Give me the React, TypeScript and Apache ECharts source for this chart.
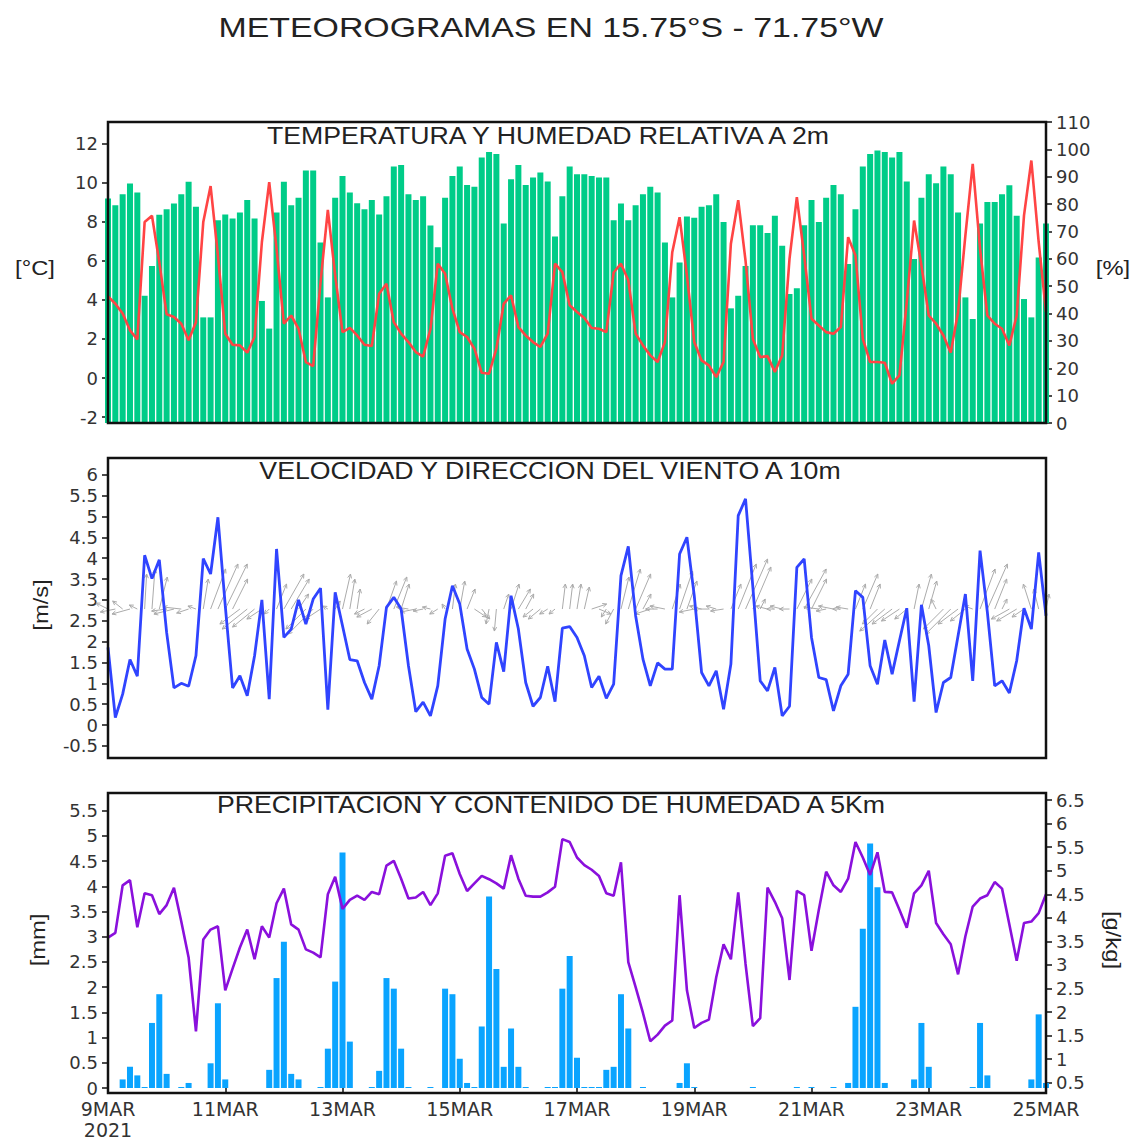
import React, { useEffect, useRef } from 'react';
import * as echarts from 'echarts';

// ---------- DATA (3-hourly from 9MAR2021 00Z, index i -> hour 3*i) ----------
const STEP_H = 3;
const DAY_LABELS = ['9MAR', '11MAR', '13MAR', '15MAR', '17MAR', '19MAR', '21MAR', '23MAR', '25MAR'];
const YEAR_LABEL = '2021';

const TEMP_TICKS = [-2, 0, 2, 4, 6, 8, 10, 12];
const RH_TICKS = [0, 10, 20, 30, 40, 50, 60, 70, 80, 90, 100, 110];
const WIND_TICKS = [-0.5, 0, 0.5, 1, 1.5, 2, 2.5, 3, 3.5, 4, 4.5, 5, 5.5, 6];
const PRECIP_TICKS = [0, 0.5, 1, 1.5, 2, 2.5, 3, 3.5, 4, 4.5, 5, 5.5];
const Q_TICKS = [0.5, 1, 1.5, 2, 2.5, 3, 3.5, 4, 4.5, 5, 5.5, 6, 6.5];

const RH = [
  82, 79.6, 83.6, 87.5, 84.2, 46.5, 57.4, 76.1, 78.1, 80.2,
  83.6, 88.2, 79.0, 38.6, 38.6, 74.1, 76.2, 74.7, 76.9, 81.5,
  74.7, 44.6, 34.5, 76.9, 88.2, 79.6, 82.3, 92.3, 92.3, 66.0,
  45.9, 82.3, 90.3, 84.2, 80.3, 78.1, 81.5, 76.2, 82.9, 93.7,
  94.3, 83.6, 81.5, 82.9, 72.2, 64.2, 82.3, 90.3, 93.7, 87.0,
  86.3, 97.0, 99.0, 98.3, 72.9, 89.1, 94.3, 87.0, 89.7, 91.5,
  88.3, 68.2, 82.9, 93.7, 90.9, 90.9, 90.3, 89.7, 89.7, 74.1,
  80.2, 74.1, 79.6, 83.6, 86.3, 84.2, 66.0, 45.9, 58.7, 75.5,
  75.0, 79.0, 79.6, 83.6, 73.5, 41.9, 46.5, 57.4, 72.3, 72.3,
  69.4, 75.7, 64.8, 47.1, 49.2, 72.3, 81.5, 73.5, 82.3, 87.0,
  83.6, 58.1, 78.1, 93.7, 98.3, 99.6, 99.0, 97.0, 99.0, 88.3,
  59.9, 82.3, 90.9, 87.6, 93.7, 90.9, 76.9, 45.9, 38.0, 72.9,
  80.8, 80.8, 83.6, 86.9, 75.7, 45.3, 38.6, 60.5, 72.9,
];

const TEMP = [
  4.18, 3.8, 3.3, 2.44, 1.98, 7.98, 8.3, 5.93, 3.26, 3.12,
  2.78, 1.93, 2.86, 7.98, 9.82, 6.27, 2.27, 1.7, 1.67, 1.3,
  2.1, 6.96, 10.02, 6.61, 2.78, 3.2, 2.52, 0.82, 0.61, 4.9,
  8.6, 5.25, 2.35, 2.57, 2.18, 1.7, 1.64, 4.31, 4.82, 2.86,
  2.27, 1.84, 1.33, 1.1, 2.5, 5.85, 5.34, 3.55, 2.35, 2.1,
  1.5, 0.27, 0.22, 1.5, 3.8, 4.23, 2.61, 2.18, 1.84, 1.59,
  2.27, 5.85, 5.42, 3.72, 3.38, 3.07, 2.56, 2.52, 2.35, 5.4,
  5.85, 5.0, 2.27, 1.67, 1.16, 0.82, 1.84, 6.44, 8.23, 5.25,
  1.84, 0.9, 0.65, 0.05, 0.82, 6.87, 9.1, 6.0, 2.0, 1.07,
  1.12, 0.31, 1.16, 6.1, 9.26, 6.27, 3.03, 2.69, 2.35, 2.27,
  2.61, 7.21, 6.27, 2.01, 0.82, 0.82, 0.78, -0.29, 0.14, 3.89,
  8.06, 5.76, 3.2, 2.78, 2.18, 1.3, 3.38, 7.3, 10.96, 6.61,
  3.2, 2.78, 2.52, 1.67, 3.2, 8.32, 11.13, 6.96, 3.38,
];

const WIND_SPEED = [
  1.86, 0.18, 0.74, 1.57, 1.17, 4.07, 3.51, 3.96, 2.22, 0.89,
  1.0, 0.93, 1.66, 3.99, 3.62, 4.98, 2.86, 0.89, 1.18, 0.7,
  1.66, 3.0, 0.62, 4.22, 2.1, 2.3, 3.0, 2.42, 3.02, 3.28,
  0.37, 3.18, 2.38, 1.57, 1.54, 1.02, 0.62, 1.42, 2.82, 3.06,
  2.78, 1.42, 0.32, 0.55, 0.22, 0.94, 2.54, 3.34, 2.9, 1.82,
  1.34, 0.66, 0.5, 1.98, 1.28, 3.1, 2.3, 1.02, 0.45, 0.66,
  1.41, 0.56, 2.32, 2.36, 2.1, 1.66, 0.9, 1.17, 0.64, 0.98,
  3.58, 4.28, 2.62, 1.58, 0.94, 1.49, 1.34, 1.34, 4.1, 4.5,
  3.1, 1.26, 0.94, 1.3, 0.38, 1.46, 5.02, 5.42, 3.3, 1.06,
  0.82, 1.38, 0.22, 0.45, 3.78, 3.98, 2.1, 1.14, 1.09, 0.34,
  0.94, 1.22, 3.22, 3.06, 1.42, 0.98, 2.04, 1.22, 2.02, 2.8,
  0.56, 2.88, 1.9, 0.3, 1.02, 1.14, 2.14, 3.14, 1.06, 4.18,
  2.7, 0.94, 1.06, 0.77, 1.54, 2.8, 2.3, 4.14, 2.62,
];

// wind direction arrows as (u, v) components, m/s
const WIND_U = [
  -1.2, -1.5, -1.0, -1.8, -0.8, 0.2, 0.3, 0.8, -1.5, -2.0,
  -1.8, -1.2, -0.8, 0.5, 1.5, 2.0, 2.2, 1.5, -2.0, -2.5,
  -2.2, -1.5, -0.5, 1.0, 2.0, 1.8, 1.0, -2.0, -2.5, -1.5,
  -0.5, 0.5, 0.8, 0.5, 0.3, -1.0, -1.5, -1.2, 1.0, 1.3,
  0.8, -1.2, -1.5, -1.0, -0.8, -0.8, -0.3, 0.3, 0.5, 0.8,
  1.2, 0.8, -0.3, -0.2, 0.5, 0.8, 1.2, 0.8, -1.0, -1.2,
  -0.8, -0.6, 0.3, 0.3, 0.4, 0.5, 1.5, 1.2, -0.5, -0.8,
  0.8, 1.2, 1.5, 0.8, -1.5, -1.2, -1.5, 0.8, 1.3, 1.0,
  -1.5, -1.2, -1.5, -1.0, -1.3, 1.0, 1.8, 2.2, 1.8, 0.5,
  -1.2, -0.8, -1.2, -1.0, 1.5, 2.2, 1.5, -1.5, -1.0, -1.5,
  -0.8, -1.2, 1.0, 1.5, 1.0, -1.5, -2.5, -2.0, -1.8, -1.2,
  0.5, 1.0, 0.8, -0.5, -2.0, -2.5, -2.0, -1.5, -0.8, 1.5,
  2.0, 1.2, 0.5, -1.8, -2.0, -1.2, -0.8, -0.5, 0.3,
];
const WIND_V = [
  0.6, -0.3, 0.8, -0.5, 0.4, 3.5, 4.0, 3.2, -0.2, -0.5,
  0.2, -0.4, 0.3, 3.0, 4.0, 4.5, 4.5, 3.0, -1.5, -2.0,
  -1.8, -1.0, -0.5, 2.5, 3.5, 3.0, 1.5, -2.0, -2.5, -1.0,
  0.3, 0.8, 3.5, 3.0, 2.0, -0.5, -0.8, -1.5, 2.8, 3.2,
  2.5, 0.2, -0.3, -0.2, 0.2, -0.5, 0.5, 2.5, 2.8, 2.0,
  -0.8, -1.0, -1.5, -2.2, 1.5, 2.5, 2.0, 1.5, -0.8, -1.0,
  -0.5, -0.5, 2.5, 2.5, 2.5, 2.2, 0.5, -0.5, -0.8, -1.5,
  3.2, 4.0, 3.5, 1.5, -0.5, 0.0, 0.3, 2.5, 3.8, 2.8,
  -0.3, 0.3, 0.0, 0.3, -0.2, 2.5, 4.5, 5.0, 4.2, 1.0,
  0.3, 0.0, 0.3, 0.0, 3.0, 4.0, 3.0, 0.2, -0.2, 0.3,
  0.0, 0.2, 2.5, 3.5, 2.5, -1.5, -2.2, -1.5, -1.2, -1.0,
  2.5, 3.5, 2.8, 1.0, -2.0, -2.5, -1.5, -1.2, 0.3, 4.0,
  4.5, 3.0, 1.0, -1.0, -1.2, -0.8, 2.5, 2.0, 1.5,
];

const PRECIP = [
  0, 0, 0.17, 0.42, 0.25, 0.02, 1.29, 1.86, 0.28, 0,
  0.02, 0.1, 0, 0, 0.49, 1.68, 0.17, 0, 0, 0,
  0, 0, 0.36, 2.18, 2.9, 0.28, 0.17, 0, 0, 0.02,
  0.78, 2.11, 4.67, 0.92, 0, 0, 0.02, 0.34, 2.18, 1.97,
  0.78, 0.02, 0, 0, 0.02, 0, 1.97, 1.86, 0.58, 0.1,
  0.02, 1.22, 3.8, 2.36, 0.42, 1.18, 0.42, 0.02, 0, 0,
  0.02, 0.02, 1.97, 2.62, 0.6, 0.02, 0.02, 0.02, 0.36, 0.42,
  1.86, 1.18, 0, 0.02, 0, 0, 0, 0, 0.1, 0.49,
  0.02, 0, 0, 0, 0, 0, 0, 0, 0.02, 0,
  0, 0, 0, 0, 0.02, 0, 0.02, 0, 0, 0.02,
  0, 0.1, 1.61, 3.16, 4.85, 3.98, 0.1, 0, 0, 0,
  0.17, 1.29, 0.42, 0, 0, 0, 0, 0, 0.02, 1.29,
  0.25, 0, 0, 0, 0, 0, 0.17, 1.46, 0.1,
];

const Q5KM = [
  3.58, 3.68, 4.69, 4.8, 3.8, 4.52, 4.48, 4.08, 4.27, 4.64,
  3.92, 3.16, 1.59, 3.54, 3.75, 3.82, 2.46, 2.92, 3.37, 3.75,
  3.12, 3.82, 3.58, 4.31, 4.62, 3.86, 3.75, 3.33, 3.26, 3.16,
  4.5, 4.87, 4.19, 4.38, 4.47, 4.38, 4.55, 4.5, 5.11, 5.21,
  4.83, 4.41, 4.43, 4.55, 4.27, 4.52, 5.32, 5.37, 4.93, 4.57,
  4.73, 4.89, 4.82, 4.73, 4.62, 5.33, 4.83, 4.47, 4.45, 4.45,
  4.54, 4.66, 5.67, 5.61, 5.28, 5.12, 5.02, 4.89, 4.52, 4.47,
  5.18, 3.06, 2.53, 1.98, 1.38, 1.52, 1.71, 1.82, 4.48, 2.46,
  1.66, 1.77, 1.84, 2.74, 3.44, 3.12, 4.54, 3.02, 1.7, 1.87,
  4.64, 4.34, 3.99, 2.68, 4.57, 4.48, 3.3, 4.17, 4.98, 4.69,
  4.55, 4.83, 5.61, 5.28, 4.91, 5.39, 4.55, 4.54, 4.17, 3.79,
  4.52, 4.69, 5.0, 3.89, 3.65, 3.44, 2.8, 3.61, 4.24, 4.41,
  4.48, 4.76, 4.62, 3.86, 3.09, 3.89, 3.92, 4.1, 4.5,
];

// ---------- STYLE / LAYOUT ----------
const W = 1137;
const H = 1140;
const PL = 108;
const PW = 938;
const GRIDS = [
  { top: 122, height: 301 },
  { top: 458, height: 300 },
  { top: 793, height: 300 },
];
const TICK_FONT = 'DejaVu Sans';
const TITLE_FONT = 'Liberation Sans';
const TXT = '#333';
const ARROW_BASE = 2.78;
const ARROW_SCALE = 10; // px per m/s

const fmt = (v: number) => String(Math.round(v * 100) / 100);

function buildOption() {
  const T_MAX = (TEMP.length - 1) * STEP_H;
  const pair = (arr: number[]) => arr.map((v, i) => [i * STEP_H, v]);

  const xAxes = GRIDS.map((_, g) => ({
    type: 'value',
    gridIndex: g,
    min: 0,
    max: T_MAX,
    interval: 48,
    axisLine: { show: false },
    splitLine: { show: false },
    axisTick: { show: g === 2, length: 6, lineStyle: { color: '#111', width: 1.5 } },
    axisLabel: {
      show: g === 2,
      margin: 10,
      color: TXT,
      fontFamily: TICK_FONT,
      fontSize: 19,
      lineHeight: 21,
      formatter: (v: number) => {
        const k = Math.round(v / 48);
        return k === 0 ? DAY_LABELS[k] + '\n' + YEAR_LABEL : DAY_LABELS[k];
      },
    },
  }));

  const yAx = (g: number, pos: string, min: number, max: number, ticks: number[]) => ({
    type: 'value',
    gridIndex: g,
    position: pos,
    min,
    max,
    axisLine: { show: false },
    splitLine: { show: false },
    axisTick: { show: true, customValues: ticks, length: 6, lineStyle: { color: '#111', width: 1.5 } },
    axisLabel: {
      customValues: ticks,
      margin: 10,
      color: TXT,
      fontFamily: TICK_FONT,
      fontSize: 18,
      formatter: (v: number) => fmt(v),
    },
  });

  const yAxes = [
    yAx(0, 'left', -2.3, 13.1, TEMP_TICKS),
    yAx(0, 'right', 0, 110, RH_TICKS),
    yAx(1, 'left', -0.79, 6.4, WIND_TICKS),
    yAx(2, 'left', 0, 5.85, PRECIP_TICKS),
    yAx(2, 'right', 0.387, 6.65, Q_TICKS),
  ];

  const arrowData = WIND_U.map((u, i) => [i * STEP_H, u, WIND_V[i]]);

  const series: any[] = [
    {
      type: 'bar', name: 'HR', xAxisIndex: 0, yAxisIndex: 1,
      data: pair(RH), barWidth: 6, itemStyle: { color: '#00CC88' }, clip: true,
    },
    {
      type: 'line', name: 'T', xAxisIndex: 0, yAxisIndex: 0,
      data: pair(TEMP), symbol: 'none', lineStyle: { color: '#FF4444', width: 2.6 }, z: 5,
    },
    {
      type: 'custom', name: 'dir', xAxisIndex: 1, yAxisIndex: 2,
      data: arrowData, z: 3,
      renderItem: (params: any, api: any) => {
        const t = api.value(0);
        const u = api.value(1);
        const v = api.value(2);
        const b = api.coord([t, ARROW_BASE]);
        const ex = b[0] + u * ARROW_SCALE;
        const ey = b[1] - v * ARROW_SCALE;
        const ang = Math.atan2(ey - b[1], ex - b[0]);
        const hl = 4.5;
        const a1 = ang + Math.PI - 0.45;
        const a2 = ang + Math.PI + 0.45;
        const st = { stroke: '#ABABAB', lineWidth: 1, fill: null };
        return {
          type: 'group',
          children: [
            { type: 'line', shape: { x1: b[0], y1: b[1], x2: ex, y2: ey }, style: st },
            {
              type: 'polyline',
              shape: { points: [[ex + hl * Math.cos(a1), ey + hl * Math.sin(a1)], [ex, ey], [ex + hl * Math.cos(a2), ey + hl * Math.sin(a2)]] },
              style: st,
            },
          ],
        };
      },
    },
    {
      type: 'line', name: 'V', xAxisIndex: 1, yAxisIndex: 2,
      data: pair(WIND_SPEED), symbol: 'none', lineStyle: { color: '#3044FF', width: 2.8 }, z: 5,
    },
    {
      type: 'bar', name: 'PP', xAxisIndex: 2, yAxisIndex: 3,
      data: pair(PRECIP), barWidth: 6, itemStyle: { color: '#0AA4FF' }, clip: true,
    },
    {
      type: 'line', name: 'Q', xAxisIndex: 2, yAxisIndex: 4,
      data: pair(Q5KM), symbol: 'none', lineStyle: { color: '#8A10DC', width: 2.6 }, z: 5,
    },
  ];

  const stretched = (text: string, x: number, y: number, size: number, sx: number, rot = 0) => ({
    type: 'text', x, y, rotation: rot, scaleX: sx, z: 120,
    style: {
      text, x: 0, y: 0, fill: '#222', fontFamily: TITLE_FONT, fontSize: size,
      textAlign: 'center', textVerticalAlign: 'middle', align: 'center', verticalAlign: 'middle',
    },
  });

  const graphic: any[] = [
    stretched('METEOROGRAMAS EN 15.75°S - 71.75°W', 551, 28, 28, 1.21),
    stretched('TEMPERATURA Y HUMEDAD RELATIVA A 2m', 548, 136, 23, 1.16),
    stretched('VELOCIDAD Y DIRECCION DEL VIENTO A 10m', 550, 471, 23, 1.16),
    stretched('PRECIPITACION Y CONTENIDO DE HUMEDAD A 5Km', 551, 805, 23, 1.16),
    stretched('[°C]', 35, 268, 21, 1.13),
    stretched('[%]', 1113, 268, 21, 1.13),
    stretched('[m/s]', 41, 605, 21, 1.13, Math.PI / 2),
    stretched('[mm]', 38, 940, 21, 1.13, Math.PI / 2),
    stretched('[g/kg]', 1113, 940, 21, 1.13, -Math.PI / 2),
    ...GRIDS.map((g) => ({
      type: 'rect', z: 110,
      shape: { x: PL, y: g.top, width: PW, height: g.height },
      style: { fill: null, stroke: '#111', lineWidth: 2.5 },
    })),
  ];

  return {
    animation: false,
    backgroundColor: '#ffffff',
    textStyle: { fontFamily: TICK_FONT },
    grid: GRIDS.map((g) => ({ left: PL, top: g.top, width: PW, height: g.height, containLabel: false })),
    xAxis: xAxes,
    yAxis: yAxes,
    series,
    graphic,
  };
}

export default function App() {
  const ref = useRef<HTMLDivElement>(null);
  useEffect(() => {
    if (!ref.current) return;
    const chart = echarts.init(ref.current, undefined, { renderer: 'svg', width: W, height: H });
    chart.setOption(buildOption() as any);
    return () => chart.dispose();
  }, []);
  return (
    <div
      ref={ref}
      style={{ position: 'absolute', left: 0, top: 0, width: W, height: H, background: '#fff' }}
    />
  );
}
